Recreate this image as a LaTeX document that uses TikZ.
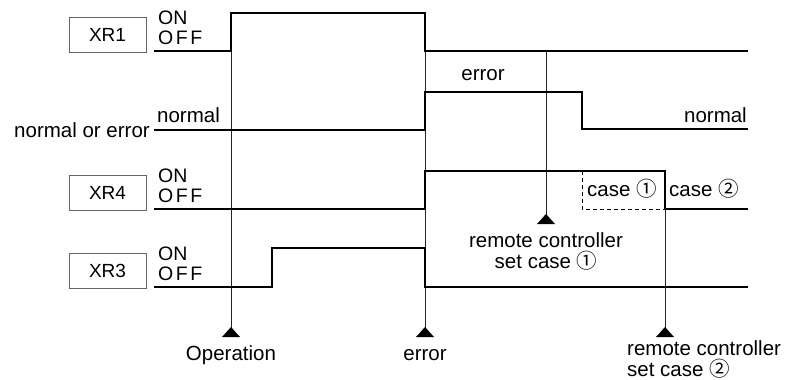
\documentclass[tikz,border=0pt]{standalone}
\usepackage{fontspec}
\setmainfont{Liberation Sans}
\newfontfamily\symf{Noto Sans CJK JP}
\newcommand{\circnum}[1]{{\symf #1}}
\newcommand{\offtxt}{O\kern2.5pt F\kern2.5pt F}
\tikzset{
  sig/.style={line width=2.3pt, line join=miter, line cap=butt},
  vline/.style={line width=0.9pt, black!85},
  lbl/.style={inner sep=0pt, font=\fontsize{20.5}{24}\selectfont},
  onoff/.style={inner sep=0pt, font=\fontsize{19.5}{22}\selectfont, anchor=base west},
  boxlbl/.style={draw=black!60, line width=0.9pt, minimum width=77pt, minimum height=35pt, inner sep=0pt, font=\fontsize{19}{22}\selectfont},
  tri/.pic={\fill (-9,0) -- (9,0) -- (0,-10) -- cycle;}
}
\begin{document}
\begin{tikzpicture}[x=1pt,y=-1pt]
\useasboundingbox (0,0) rectangle (790,380);

% relay boxes
\node[boxlbl] (xr1) at (107.5,34.5) {XR1};
\node[boxlbl] (xr4) at (107.5,192.5) {XR4};
\node[boxlbl] (xr3) at (107.5,270.5) {XR3};

% ON / OFF labels
\node[onoff] (on1) at (158,24) {ON};
\node[onoff] (off1) at (158,44) {\offtxt};
\node[onoff] (on4) at (158,182) {ON};
\node[onoff] (off4) at (158,202) {\offtxt};
\node[onoff] (on3) at (158,260) {ON};
\node[onoff] (off3) at (158,280) {\offtxt};

% normal / error labels
\node[lbl, anchor=base east] (ne) at (150,137) {normal or error};
\node[lbl, anchor=base west] (nl) at (157,122) {normal};
\node[lbl, anchor=base] (et) at (483,80) {error};
\node[lbl, anchor=base east] (nr) at (747,122) {normal};

% case labels
\draw[line width=0.8pt, dash pattern=on 4pt off 3pt] (582,171) -- (582,209) -- (665,209);
\node[lbl, anchor=base west, text height=15pt, text depth=2pt] (c1) at (587,196) {case \circnum{①}};
\node[lbl, anchor=base west, text height=15pt, text depth=2pt] (c2) at (669,196) {case \circnum{②}};

% event markers
\coordinate (op) at (231,337);
\coordinate (er) at (425,337);
\coordinate (r1) at (546,224);
\coordinate (r2) at (665,337);
\draw[vline] (231,51) -- (op);
\draw[vline] (425,51) -- (er);
\draw[vline] (546,51) -- (r1);
\draw[vline] (665,209) -- (r2);
\pic at (op) {tri};
\pic at (er) {tri};
\pic at (r1) {tri};
\pic at (r2) {tri};

\node[lbl, anchor=base] (opl) at (231,360) {Operation};
\node[lbl, anchor=base] (erl) at (425,360) {error};
\node[inner sep=0pt, font=\fontsize{20.5}{21}\selectfont, align=center, anchor=north] (r1t) at (546,232)
  {remote controller\\set case \circnum{①}};
\node[inner sep=0pt, font=\fontsize{20.5}{21}\selectfont, align=left, anchor=north west] (r2t) at (627,340)
  {remote controller\\set case \circnum{②}};

% signals
\draw[sig] (154,51) -- (231,51) -- (231,13) -- (425,13) -- (425,51) -- (748,51);
\draw[sig] (154,130) -- (425,130) -- (425,92) -- (582,92) -- (582,129) -- (748,129);
\draw[sig] (154,209) -- (425,209) -- (425,171) -- (665,171) -- (665,209) -- (748,209);
\draw[sig] (154,287) -- (272,287) -- (272,248) -- (425,248) -- (425,287) -- (748,287);
\end{tikzpicture}
\end{document}
